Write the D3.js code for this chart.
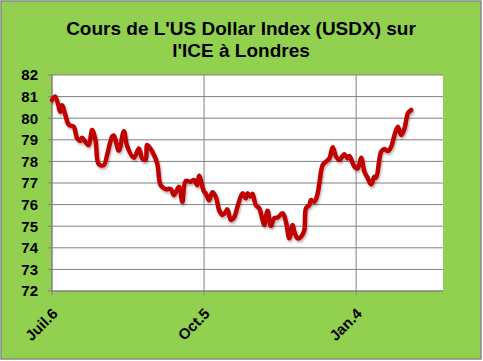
<html>
<head>
<meta charset="utf-8">
<script src="https://cdnjs.cloudflare.com/ajax/libs/d3/7.8.5/d3.min.js"></script>
<style>
  body { margin: 0; background: #fff; }
  text { font-family: "Liberation Sans", Arial, sans-serif; font-weight: bold; }
</style>
</head>
<body>
<div id="chartContainer"></div>
<script>
// dates (2009-2010) and USDX values
var dates = ["2009-07-06","2009-07-08","2009-07-11","2009-07-12","2009-07-14","2009-07-16","2009-07-19","2009-07-21",
  "2009-07-23","2009-07-24","2009-07-26","2009-07-28","2009-07-30","2009-08-01","2009-08-03","2009-08-06",
  "2009-08-08","2009-08-11","2009-08-12","2009-08-15","2009-08-18","2009-08-20","2009-08-24","2009-08-27",
  "2009-08-29","2009-08-31","2009-09-01","2009-09-04","2009-09-07","2009-09-09","2009-09-12","2009-09-15",
  "2009-09-17","2009-09-20","2009-09-22","2009-09-24","2009-09-27","2009-09-29","2009-10-01","2009-10-02",
  "2009-10-05","2009-10-06","2009-10-08","2009-10-10","2009-10-12","2009-10-14","2009-10-16","2009-10-18",
  "2009-10-19","2009-10-21","2009-10-23","2009-10-25","2009-10-28","2009-10-30","2009-10-31","2009-11-02",
  "2009-11-03","2009-11-05","2009-11-07","2009-11-09","2009-11-10","2009-11-12","2009-11-14","2009-11-16",
  "2009-11-18","2009-11-21","2009-11-23","2009-11-25","2009-11-27","2009-11-28","2009-11-30","2009-12-02",
  "2009-12-04","2009-12-05","2009-12-07","2009-12-08","2009-12-10","2009-12-12","2009-12-13","2009-12-15",
  "2009-12-17","2009-12-19","2009-12-21","2009-12-23","2009-12-25","2009-12-28","2009-12-30","2009-12-31",
  "2010-01-03","2010-01-05","2010-01-07","2010-01-09","2010-01-11","2010-01-13","2010-01-15","2010-01-16",
  "2010-01-19","2010-01-21","2010-01-23","2010-01-25","2010-01-27","2010-01-29","2010-01-31","2010-02-02",
  "2010-02-04","2010-02-06"];
var usdx = [80.84,81.0,80.3,80.6,80.15,79.7,79.6,79.07,
  78.95,79.1,78.9,78.76,79.45,79.0,77.87,77.83,
  78.3,79.15,79.2,78.5,79.4,78.7,78.17,78.6,
  78.14,78.07,78.76,78.45,77.9,76.9,76.72,76.72,
  76.44,76.83,76.13,77.09,77.06,77.14,76.9,77.34,
  76.6,76.52,76.2,76.57,76.37,75.75,75.52,75.67,
  75.78,75.29,75.41,75.9,76.52,76.29,76.52,76.37,
  76.5,75.98,75.83,75.29,75.06,75.72,75.01,75.37,
  75.4,75.6,75.21,74.44,75.06,74.75,74.44,74.51,
  74.82,75.83,75.98,76.21,76.13,76.52,76.99,77.83,
  77.99,78.14,78.65,78.22,78.07,78.33,78.14,78.25,
  77.76,77.68,78.17,77.52,77.22,76.94,77.29,77.25,
  78.45,78.57,78.48,78.68,79.22,79.6,79.22,79.53,
  80.23,80.38];
var tickDates = ["2009-07-06","2009-10-05","2010-01-04"];
var tickLabels = ["Juil.6","Oct.5","Jan.4"];
var yTicks = [72,73,74,75,76,77,78,79,80,81,82];
var title = ["Cours de L'US Dollar Index (USDX) sur", "l'ICE à Londres"];

var W = 483, H = 361;
var parse = d3.timeParse("%Y-%m-%d");
var svg = d3.select("#chartContainer").append("svg").attr("width", W).attr("height", H);

// background + border
svg.append("rect").attr("x", 1).attr("y", 1).attr("width", W - 3).attr("height", H - 3)
  .style("fill", "#92d050").style("stroke", "#86888a").style("stroke-width", 1.5);

var pLeft = 52, pRight = 443, pTop = 75, pBottom = 291;
var x = d3.scaleTime().domain([parse("2009-07-06"), parse("2010-02-25")]).range([pLeft, pRight]);
var y = d3.scaleLinear().domain([72, 82]).range([pBottom, pTop]);

svg.append("rect").attr("x", pLeft).attr("y", pTop).attr("width", pRight - pLeft).attr("height", pBottom - pTop)
  .style("fill", "#fff");

// horizontal grid
svg.selectAll(".hgrid").data(yTicks).enter().append("line")
  .attr("x1", pLeft - 4).attr("x2", pRight)
  .attr("y1", function (d) { return y(d); }).attr("y2", function (d) { return y(d); })
  .style("stroke", "#808080").style("stroke-width", 1);

// vertical grid / ticks
svg.selectAll(".vgrid").data(tickDates).enter().append("line")
  .attr("x1", function (d) { return x(parse(d)); }).attr("x2", function (d) { return x(parse(d)); })
  .attr("y1", pTop).attr("y2", pBottom + 4)
  .style("stroke", "#808080").style("stroke-width", 1);

// axis lines
svg.append("line").attr("x1", pLeft).attr("x2", pLeft).attr("y1", pTop).attr("y2", pBottom)
  .style("stroke", "#808080");
svg.append("line").attr("x1", pLeft).attr("x2", pRight).attr("y1", pBottom).attr("y2", pBottom)
  .style("stroke", "#808080");

// y labels
svg.selectAll(".ylab").data(yTicks).enter().append("text")
  .attr("x", 38).attr("y", function (d) { return y(d); }).attr("dy", "0.36em")
  .attr("text-anchor", "end").style("font-size", "15px").style("fill", "#000")
  .text(function (d) { return d; });

// x labels, rotated
svg.selectAll(".xlab").data(tickDates).enter().append("text")
  .attr("transform", function (d) { return "translate(" + (x(parse(d)) + 3) + "," + (pBottom + 20) + ") rotate(-45)"; })
  .attr("text-anchor", "end").attr("dy", "0.35em").style("font-size", "15px").style("fill", "#000")
  .text(function (d, i) { return tickLabels[i]; });

// title
svg.selectAll(".title").data(title).enter().append("text")
  .attr("x", 241).attr("y", function (d, i) { return 35 + i * 22; })
  .attr("text-anchor", "middle").style("font-size", "19px")
  .style("fill", "#000")
  .text(function (d) { return d; });

// shadow filter
var defs = svg.append("defs");
var f = defs.append("filter").attr("id", "shadow").attr("x", "-5%").attr("y", "-5%").attr("width", "110%").attr("height", "120%");
f.append("feDropShadow").attr("dx", 1).attr("dy", 2).attr("stdDeviation", 1.2)
  .attr("flood-color", "#000").attr("flood-opacity", 0.3);

var line = d3.line()
  .x(function (d, i) { return x(parse(dates[i])); })
  .y(function (d) { return y(d); })
  .curve(d3.curveCatmullRom.alpha(0.5));

svg.append("path").datum(usdx).attr("d", line)
  .style("fill", "none").style("stroke", "#c00000").style("stroke-width", 4.5)
  .style("stroke-linejoin", "round").style("stroke-linecap", "round")
  .attr("filter", "url(#shadow)");
</script>
</body>
</html>
